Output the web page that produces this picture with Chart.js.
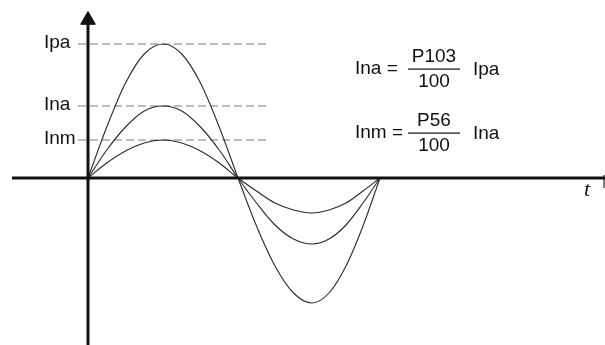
<!DOCTYPE html>
<html>
<head>
<meta charset="utf-8">
<script src="https://cdn.jsdelivr.net/npm/chart.js@4"></script>
<style>
  html, body { margin: 0; padding: 0; background: #ffffff; }
  #wrap { width: 605px; height: 345px; position: relative; }
</style>
</head>
<body>
<div id="wrap"><canvas id="c"></canvas></div>
<script>
// ---- data (time in arbitrary units, current in arbitrary units) ----
const tValues  = [0, 18.75, 37.5, 56.25, 75, 93.75, 112.5, 131.25, 150, 168.5, 187, 205.5, 224, 241, 258, 275, 292];
const ipaCurve = [0, 51, 95, 124, 134, 124, 95, 51, 0, -48, -88, -115, -125, -115, -88, -48, 0];
const inaCurve = [0, 28, 51, 67, 72, 67, 51, 28, 0, -25, -47, -61, -66, -61, -47, -25, 0];
const inmCurve = [0, 15, 27, 35, 38, 35, 27, 15, 0, -13, -25, -32, -35, -32, -25, -13, 0];
const levelNames  = ["Ipa", "Ina", "Inm"];
const levelValues = [134, 72, 38];
const dashRange   = [-10, 180];   // extent of dashed reference lines (time units)
const xAxisRange  = [-76, 517];
const yAxisRange  = [-170, 158];
const axisLabel   = "t";
const formulas = [
  { lhs: "Ina =", num: "P103", den: "100", rhs: "Ipa" },
  { lhs: "Inm =", num: "P56",  den: "100", rhs: "Ina" }
];

const xMin = -88, xMax = 517, yMin = -167, yMax = 178;

const pts = (vals) => tValues.map((t, i) => ({ x: t, y: vals[i] }));

const datasets = [];
// dashed level lines
levelValues.forEach((v) => {
  datasets.push({
    data: [{ x: dashRange[0], y: v }, { x: dashRange[1], y: v }],
    borderColor: "#7a7a7a", borderWidth: 1, borderDash: [8, 4],
    pointRadius: 0, fill: false, order: 3
  });
});
// curves
[ipaCurve, inaCurve, inmCurve].forEach((vals) => {
  datasets.push({
    data: pts(vals),
    borderColor: "#2a2a2a", borderWidth: 1.1,
    cubicInterpolationMode: "monotone",
    pointRadius: 0, fill: false, order: 2
  });
});
// horizontal axis
datasets.push({
  data: [{ x: xAxisRange[0], y: 0 }, { x: xAxisRange[1], y: 0 }],
  borderColor: "#111111", borderWidth: 3, pointRadius: 0, fill: false, order: 1
});
// small end mark of horizontal axis
datasets.push({
  data: [{ x: 516, y: 3 }, { x: 516, y: -10 }],
  borderColor: "#666666", borderWidth: 1, pointRadius: 0, fill: false, order: 1
});
// vertical axis
datasets.push({
  data: [{ x: 0, y: yAxisRange[0] }, { x: 0, y: yAxisRange[1] }],
  borderColor: "#111111", borderWidth: 3, pointRadius: 0, fill: false, order: 1
});
// arrow head
datasets.push({
  data: [{ x: 0, y: yAxisRange[1] }],
  showLine: false, pointStyle: "triangle", pointRadius: 8.5,
  backgroundColor: "#111111", borderColor: "#111111", borderWidth: 1, order: 0
});

const textPlugin = {
  id: "texts",
  afterDatasetsDraw(chart) {
    const ctx = chart.ctx;
    const xs = chart.scales.x, ys = chart.scales.y;
    ctx.save();
    ctx.fillStyle = "#111111";
    ctx.font = "19px 'Liberation Sans', Arial, sans-serif";
    ctx.textBaseline = "middle";
    // level labels
    ctx.textAlign = "left";
    levelNames.forEach((n, i) => {
      ctx.fillText(n, 44, ys.getPixelForValue(levelValues[i]) - 1);
    });
    // formulas
    const centers = [69, 133];
    formulas.forEach((f, i) => {
      const cy = centers[i];
      ctx.textAlign = "left";
      ctx.fillText(f.lhs, 355, cy);
      ctx.textAlign = "center";
      ctx.fillText(f.num, 434, cy - 12);
      ctx.fillText(f.den, 434, cy + 13);
      ctx.fillRect(408, cy - 0.5, 52, 1.2);
      ctx.textAlign = "left";
      ctx.fillText(f.rhs, 473, cy + 1);
    });
    // axis label t
    ctx.font = "italic 22px 'Liberation Serif', 'Times New Roman', serif";
    ctx.textAlign = "center";
    ctx.fillText(axisLabel, xs.getPixelForValue(499), ys.getPixelForValue(-12));
    ctx.restore();
  }
};

new Chart(document.getElementById("c"), {
  type: "line",
  data: { datasets },
  options: {
    responsive: true, maintainAspectRatio: false, animation: false,
    layout: { padding: 0, autoPadding: false },
    plugins: { legend: { display: false }, tooltip: { enabled: false } },
    scales: {
      x: { type: "linear", min: xMin, max: xMax, display: false },
      y: { type: "linear", min: yMin, max: yMax, display: false }
    }
  },
  plugins: [textPlugin]
});
</script>
</body>
</html>
